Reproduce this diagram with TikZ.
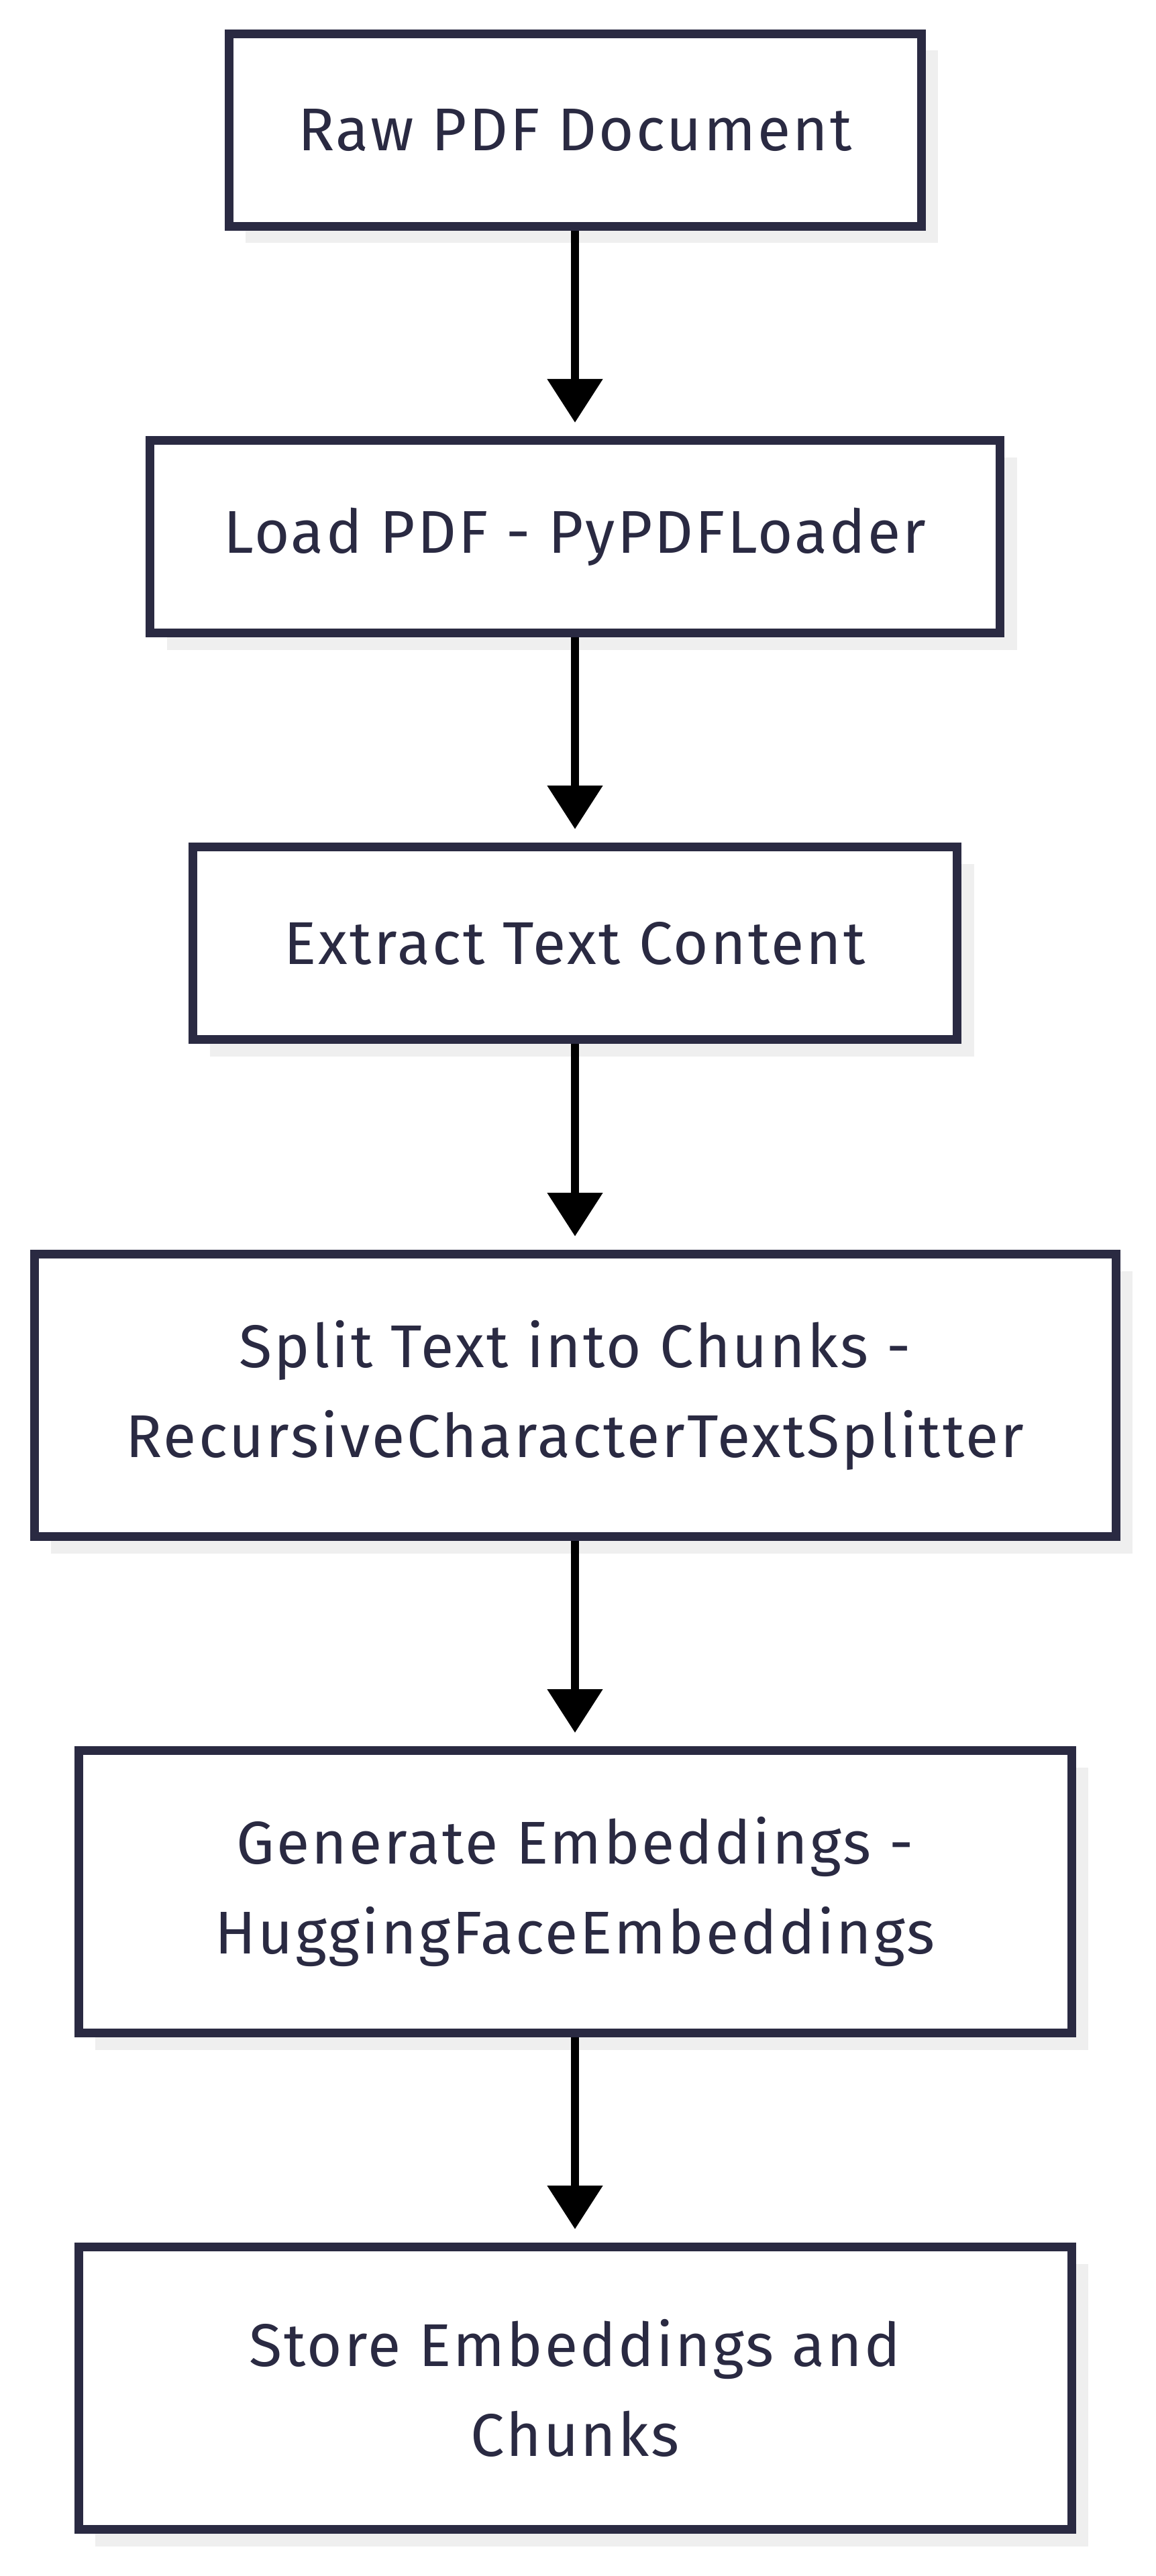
\documentclass[tikz,border=0pt]{standalone}
\usepackage{fontspec}
\setmainfont[LetterSpace=3.5]{Fira Sans}
\usetikzlibrary{arrows.meta,shadows}

\definecolor{boxline}{HTML}{2A2A42}
\definecolor{shadowgray}{HTML}{EFEFEF}

\begin{document}
\begin{tikzpicture}[>={Triangle[length=0.65cm,width=0.80cm]},
    stepbox/.style={draw=boxline,line width=0.13cm,fill=white,
        text=boxline,align=center,inner sep=0pt,
        font=\fontsize{25.6pt}{38.1pt}\selectfont,
        drop shadow={shadow xshift=0.25cm,shadow yshift=-0.25cm,fill=shadowgray,opacity=1}},
    shortbox/.style={stepbox,minimum height=2.87cm},
    tallbox/.style={stepbox,minimum height=4.21cm},
    flow/.style={->,line width=0.12cm,shorten >=0.2cm}]

                % Page
                \useasboundingbox (0,0) rectangle (17.22,-38.40);

                % Boxes
                \node[shortbox,minimum width=10.32cm] (raw) at (8.57,-1.94) {Raw PDF Document};
                \node[shortbox,minimum width=12.67cm] (load) at (8.57,-8.00) {Load PDF - PyPDFLoader};
                \node[shortbox,minimum width=11.39cm] (extract) at (8.57,-14.06) {Extract Text Content};
                \node[tallbox,minimum width=16.12cm] (split) at (8.57,-20.80) {Split Text into Chunks -\\RecursiveCharacterTextSplitter};
                \node[tallbox,minimum width=14.80cm] (embed) at (8.57,-28.20) {Generate Embeddings -\\HuggingFaceEmbeddings};
                \node[tallbox,minimum width=14.80cm] (store) at (8.57,-35.60) {Store Embeddings and\\Chunks};

                % Arrows
                \draw[flow] (raw) -- (load);
                \draw[flow] (load) -- (extract);
                \draw[flow] (extract) -- (split);
                \draw[flow] (split) -- (embed);
                \draw[flow] (embed) -- (store);

            \end{tikzpicture}
\end{document}
